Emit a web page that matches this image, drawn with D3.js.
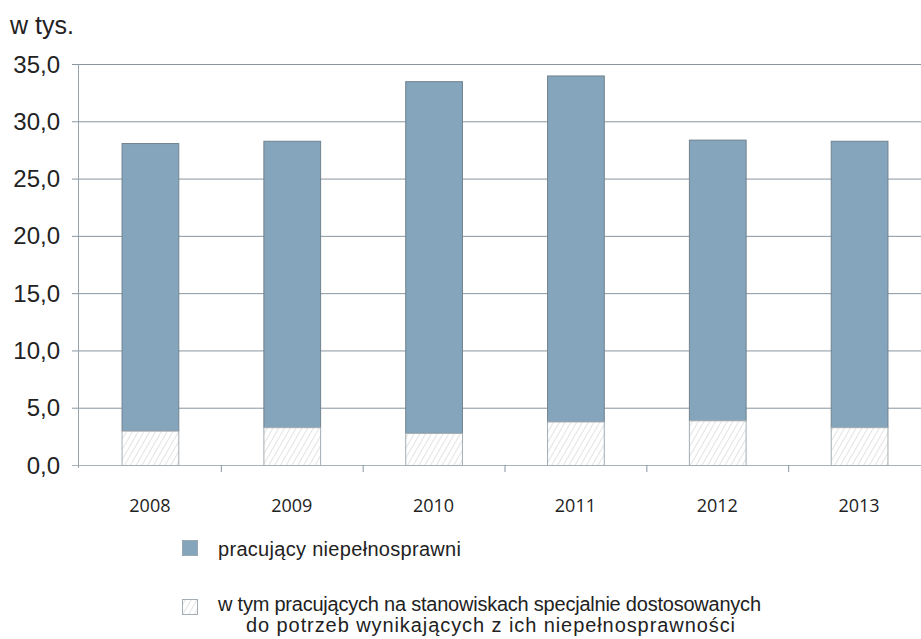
<html>
<head>
<style>
  body { margin: 0; background: #fff; }
  text { font-family: "Liberation Sans", Arial, sans-serif; }
</style>
</head>
<body>
<script src="https://d3js.org/d3.v7.min.js"></script>
<script>
  var years = ['2008', '2009', '2010', '2011', '2012', '2013'];
  var working = [28.1, 28.3, 33.5, 34.0, 28.4, 28.3];
  var adapted = [3.0, 3.3, 2.8, 3.8, 3.9, 3.3];
  var yTicks = [0, 5, 10, 15, 20, 25, 30, 35];
  var legendLabels = ['pracujący niepełnosprawni',
    ['w tym pracujących na stanowiskach specjalnie dostosowanych', 'do potrzeb wynikających z ich niepełnosprawności']];

  var width = 921, height = 639;
  var plotL = 79, plotR = 930, plotT = 64, plotB = 465;

  var svg = d3.select('body').append('svg')
    .attr('width', width).attr('height', height);

  // wzór kreskowania
  var pat = svg.append('defs').append('pattern')
    .attr('id', 'hatch').attr('patternUnits', 'userSpaceOnUse')
    .attr('width', 5).attr('height', 5)
    .attr('patternTransform', 'rotate(30)');
  pat.append('rect').attr('width', 5).attr('height', 5).attr('fill', '#fff');
  pat.append('line').attr('x1', 0).attr('y1', 0).attr('x2', 0).attr('y2', 5)
    .attr('stroke', '#d0d0d0').attr('stroke-width', 1.2);

  var x = d3.scaleBand().domain(years).range([plotL, plotR]).paddingInner(0.6).paddingOuter(0.3);
  var xb = d3.scaleBand().domain(years).range([plotL, plotR]);
  var y = d3.scaleLinear().domain([0, 35]).range([plotB, plotT]);

  // linie siatki
  svg.append('g').selectAll('line').data(yTicks).enter().append('line')
    .attr('x1', plotL - 7).attr('x2', width)
    .attr('y1', d => y(d) + 0.5).attr('y2', d => y(d) + 0.5)
    .attr('stroke', d => d === 0 ? '#a9b3ba' : '#8796a0').attr('stroke-width', 1);

  // etykiety osi Y
  svg.append('g').selectAll('text').data(yTicks).enter().append('text')
    .attr('x', 60).attr('y', d => y(d)).attr('dy', '0.36em')
    .attr('text-anchor', 'end').attr('font-size', 24).attr('fill', '#222')
    .text(d => d3.format('.1f')(d).replace('.', ','));

  // oś Y
  svg.append('line').attr('x1', plotL - 0.5).attr('x2', plotL - 0.5)
    .attr('y1', plotT).attr('y2', plotB + 3)
    .attr('stroke', '#98a3ab');

  // znaczniki osi X między kategoriami
  svg.append('g').selectAll('line').data(years.slice(1)).enter().append('line')
    .attr('x1', d => xb(d) + 0.5).attr('x2', d => xb(d) + 0.5)
    .attr('y1', plotB).attr('y2', plotB + 7)
    .attr('stroke', '#8796a0');

  // słupki
  var g = svg.append('g');
  g.selectAll('rect.total').data(years).enter().append('rect')
    .attr('x', d => x(d) + 0.5).attr('width', x.bandwidth())
    .attr('y', (d, i) => y(working[i]) + 0.5)
    .attr('height', (d, i) => y(adapted[i]) - y(working[i]))
    .attr('fill', '#84a5bb').attr('stroke', '#70828e');
  g.selectAll('rect.adapted').data(years).enter().append('rect')
    .attr('x', d => x(d) + 0.5).attr('width', x.bandwidth())
    .attr('y', (d, i) => y(adapted[i]) + 0.5)
    .attr('height', (d, i) => y(0) - y(adapted[i]))
    .attr('fill', 'url(#hatch)').attr('stroke', '#a4adb3');

  // etykiety osi X
  svg.append('g').selectAll('text').data(years).enter().append('text')
    .attr('x', d => x(d) + x.bandwidth() / 2).attr('y', 512)
    .attr('text-anchor', 'middle').attr('font-size', 18).attr('fill', '#222')
    .style('font-family', '"Open Sans", Lato, sans-serif')
    .text(d => d);

  // jednostka
  svg.append('text').attr('x', 10).attr('y', 34)
    .attr('font-size', 25).attr('fill', '#222').text('w tys.');

  // legenda
  svg.append('rect').attr('x', 182.5).attr('y', 540.5).attr('width', 15).attr('height', 15)
    .attr('fill', '#84a5bb').attr('stroke', '#9aa8b2');
  svg.append('text').attr('x', 218).attr('y', 556).attr('font-size', 20).attr('fill', '#222')
    .attr('textLength', 243).attr('lengthAdjust', 'spacing')
    .text(legendLabels[0]);
  svg.append('rect').attr('x', 182.5).attr('y', 599.5).attr('width', 15).attr('height', 15)
    .attr('fill', 'url(#hatch)').attr('stroke', '#a4adb3');
  svg.append('text').attr('x', 218).attr('y', 611).attr('font-size', 20).attr('fill', '#222')
    .attr('textLength', 543).attr('lengthAdjust', 'spacing')
    .text(legendLabels[1][0]);
  svg.append('text').attr('x', 246).attr('y', 632).attr('font-size', 20).attr('fill', '#222')
    .attr('textLength', 489).attr('lengthAdjust', 'spacing')
    .text(legendLabels[1][1]);
</script>
</body>
</html>
